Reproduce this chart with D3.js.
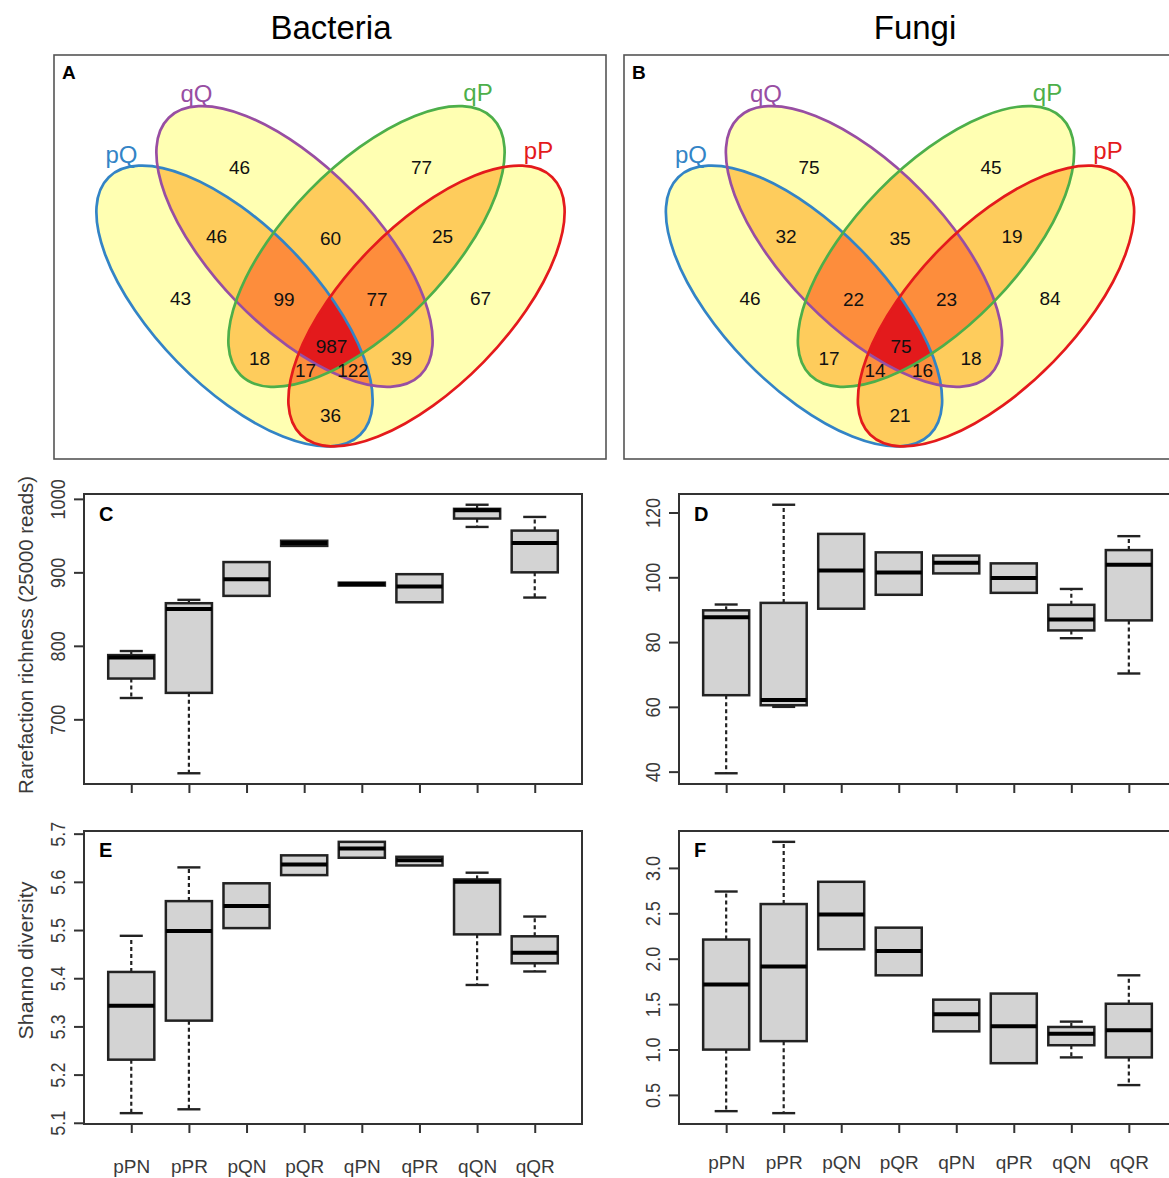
<!DOCTYPE html>
<html>
<head>
<meta charset="utf-8">
<script src="https://cdn.jsdelivr.net/npm/d3@7"></script>
<style>
  body { margin: 0; background: #fff; }
  text { font-family: "Liberation Sans", Arial, sans-serif; }
</style>
</head>
<body>
<div id="chart"></div>
<script>
// ---- Venn data ----
const setNames = ["pQ", "qQ", "qP", "pP"];
const regionKeys = ["pQ", "qQ", "qP", "pP", "pQ&qQ", "qQ&qP", "qP&pP", "pQ&qP", "qQ&pP", "pQ&pP",
  "pQ&qQ&qP", "qQ&qP&pP", "pQ&qP&pP", "pQ&qQ&pP", "pQ&qQ&qP&pP"];
const bacteriaCounts = [43, 46, 77, 67, 46, 60, 25, 18, 39, 36, 99, 77, 17, 122, 987];
const fungiCounts = [46, 75, 45, 84, 32, 35, 19, 17, 18, 21, 22, 23, 14, 16, 75];

// ---- Boxplot data: [lower whisker, Q1, median, Q3, upper whisker] ----
const groups = ["pPN", "pPR", "pQN", "pQR", "qPN", "qPR", "qQN", "qQR"];
const richBacteria = [
  [729, 755.5, 784, 787.4, 792.9],
  [626.6, 736, 850, 858, 862.6],
  [868, 868, 890.7, 914, 914],
  [936, 936, 940, 943, 943],
  [882, 882, 884, 886, 886],
  [859.3, 859.3, 880.7, 897.5, 897.5],
  [961.8, 973.2, 984.6, 986.4, 992],
  [865.7, 900, 940, 956.8, 975.4]
];
const richFungi = [
  [39.5, 63.6, 87.7, 89.8, 91.6],
  [60, 60.5, 62.1, 92.1, 122.4],
  [90.3, 90.3, 102.1, 113.4, 113.4],
  [94.6, 94.6, 101.5, 107.7, 107.7],
  [101.2, 101.2, 104.5, 106.7, 106.7],
  [95.2, 95.2, 99.8, 104.3, 104.3],
  [81.2, 83.6, 87, 91.5, 96.4],
  [70.3, 86.7, 103.9, 108.4, 112.7]
];
const shannonBacteria = [
  [5.120, 5.231, 5.343, 5.413, 5.488],
  [5.128, 5.312, 5.498, 5.560, 5.630],
  [5.504, 5.504, 5.550, 5.597, 5.597],
  [5.614, 5.614, 5.636, 5.655, 5.655],
  [5.650, 5.650, 5.669, 5.683, 5.683],
  [5.634, 5.634, 5.645, 5.652, 5.652],
  [5.386, 5.491, 5.600, 5.605, 5.619],
  [5.414, 5.431, 5.453, 5.487, 5.528]
];
const shannonFungi = [
  [0.321, 0.999, 1.717, 2.211, 2.740],
  [0.299, 1.092, 1.914, 2.602, 3.287],
  [2.104, 2.104, 2.487, 2.847, 2.847],
  [1.817, 1.817, 2.085, 2.342, 2.342],
  [1.200, 1.200, 1.389, 1.549, 1.549],
  [0.849, 0.849, 1.255, 1.616, 1.616],
  [0.913, 1.047, 1.173, 1.248, 1.307],
  [0.608, 0.913, 1.211, 1.504, 1.817]
];
const richBacteriaTicks = [700, 800, 900, 1000];
const richFungiTicks = [40, 60, 80, 100, 120];
const shannonBacteriaTicks = [5.1, 5.2, 5.3, 5.4, 5.5, 5.6, 5.7];
const shannonFungiTicks = [0.5, 1.0, 1.5, 2.0, 2.5, 3.0];

// ---- layout ----
const W = 1169, H = 1178;
const setColors = ["#3384c6", "#984ea3", "#4daf4a", "#e41a1c"];
const overlapFills = ["#ffffb2", "#fecc5c", "#fd8d3c", "#e31a1c"];
const vennEllipses = [
  {dx: -96, cy: 306, angle: 45.7},
  {dx: -36, cy: 246.5, angle: 45.7},
  {dx: 36, cy: 246.5, angle: -45.7},
  {dx: 96, cy: 306, angle: -45.7}
];
const vennRx = 180, vennRy = 80;
// label centre: [offset from venn centre, y]
const regionLabelPos = [[-150, 298], [-91, 167], [91, 167], [150, 298], [-114, 236], [0, 238], [112, 236],
  [-71, 358], [71, 358], [0, 415], [-46.5, 299], [46.5, 299], [-25, 370], [22.5, 370], [1, 346.5]];
const setLabelPos = [[-209, 163], [-134, 102], [147.5, 101], [208, 159]];

let svg = d3.select("#chart")
.append("svg")
.attr("width", W)
.attr("height", H)
.style("display", "block");

// Column titles.
svg.append("text").attr("x", 331).attr("y", 39).attr("text-anchor", "middle")
.style("font-size", "33px").text("Bacteria");
svg.append("text").attr("x", 915).attr("y", 39).attr("text-anchor", "middle")
.style("font-size", "33px").text("Fungi");

const combinations = (arr, k) => {
  if (k === 0) return [[]];
  return arr.flatMap((v, i) => combinations(arr.slice(i + 1), k - 1).map(c => [v, ...c]));
};

const drawVenn = (id, cx, frameX, counts, letter) => {
  let g = svg.append("g");
  g.append("rect")
  .attr("x", frameX).attr("y", 55)
  .attr("width", 552).attr("height", 404)
  .attr("fill", "none").attr("stroke", "#555").attr("stroke-width", 1.6);

  const setEllipse = (sel, i) => {
    const e = vennEllipses[i];
    sel.attr("cx", cx + e.dx).attr("cy", e.cy)
    .attr("rx", vennRx).attr("ry", vennRy)
    .attr("transform", "rotate(" + e.angle + "," + (cx + e.dx) + "," + e.cy + ")");
  };

  let defs = g.append("defs");
  setNames.forEach((s, i) => {
    defs.append("clipPath").attr("id", id + "-c" + i)
    .append("ellipse").call(setEllipse, i);
  });

  // Fill by number of overlapping sets.
  const idx = d3.range(setNames.length);
  for (let k = 1; k <= 4; k++) {
    combinations(idx, k).forEach(c => {
      let layer = g;
      c.slice(1).forEach(j => {
        layer = layer.append("g").attr("clip-path", "url(#" + id + "-c" + j + ")");
      });
      layer.append("ellipse").call(setEllipse, c[0])
      .attr("fill", overlapFills[k - 1]).attr("stroke", "none");
    });
  }

  // Outlines.
  setNames.forEach((s, i) => {
    g.append("ellipse").call(setEllipse, i)
    .attr("fill", "none").attr("stroke", setColors[i]).attr("stroke-width", 2.7);
  });

  // Set names.
  setNames.forEach((s, i) => {
    g.append("text")
    .attr("x", cx + setLabelPos[i][0]).attr("y", setLabelPos[i][1])
    .attr("text-anchor", "middle")
    .attr("fill", setColors[i])
    .style("font-size", "24px")
    .text(s);
  });

  // Region counts.
  g.selectAll(".count")
  .data(regionKeys)
  .enter()
  .append("text")
  .attr("x", (d, i) => cx + regionLabelPos[i][0])
  .attr("y", (d, i) => regionLabelPos[i][1])
  .attr("dy", "0.36em")
  .attr("text-anchor", "middle")
  .attr("fill", "#111")
  .style("font-size", "19px")
  .text((d, i) => counts[i]);

  g.append("text").attr("x", frameX + 8).attr("y", 79)
  .style("font-size", "19px").style("font-weight", "bold").text(letter);
};

drawVenn("vA", 330.5, 54, bacteriaCounts, "A");
drawVenn("vB", 900, 624, fungiCounts, "B");

// ---- Box plots ----
const drawBoxes = (opt) => {
  const flat = opt.stats.flat();
  const lo = d3.min(flat), hi = d3.max(flat), pad = (hi - lo) * 0.04;

  let x = d3.scaleLinear().domain([0.18, 8.82]).range([opt.x0, opt.x1]);
  let y = d3.scaleLinear().domain([lo - pad, hi + pad]).range([opt.y1, opt.y0]);
  let g = svg.append("g");

  // Y axis
  let ya = g.append("g")
  .attr("transform", "translate(" + opt.x0 + ",0)")
  .call(d3.axisLeft(y).tickValues(opt.ticks).tickSize(10).tickFormat(opt.fmt));
  ya.select(".domain").remove();
  ya.selectAll(".tick line").attr("stroke", "#333").attr("stroke-width", 2);
  ya.selectAll(".tick text")
  .attr("x", null).attr("dy", null)
  .attr("text-anchor", "middle")
  .attr("transform", "translate(-19,0) rotate(-90) scale(0.86,1)")
  .attr("fill", "#3a3a3a")
  .style("font-size", "21px")
  .style("font-family", "'Liberation Sans', Arial, sans-serif");

  // X axis
  let xa = g.append("g")
  .attr("transform", "translate(0," + opt.y1 + ")")
  .call(d3.axisBottom(x).tickValues(d3.range(1, 9)).tickSize(9)
    .tickFormat(d => opt.xlabels ? groups[d - 1] : ""));
  xa.select(".domain").remove();
  xa.selectAll(".tick line").attr("stroke", "#333").attr("stroke-width", 2);
  xa.selectAll(".tick text")
  .attr("y", opt.labelY).attr("dy", null)
  .attr("fill", "#3a3a3a")
  .style("font-size", "19px")
  .style("font-family", "'Liberation Sans', Arial, sans-serif");

  const bw = x(1.4) - x(1);
  const sw = x(1.2) - x(1);

  let b = g.selectAll(".bx")
  .data(opt.stats)
  .enter()
  .append("g");

  // Whiskers
  b.filter(d => d[4] > d[3]).append("line")
  .attr("x1", d => x(opt.stats.indexOf(d) + 1)).attr("x2", d => x(opt.stats.indexOf(d) + 1))
  .attr("y1", d => y(d[3])).attr("y2", d => y(d[4]))
  .attr("stroke", "#222").attr("stroke-width", 2.2).attr("stroke-dasharray", "4,3");
  b.filter(d => d[0] < d[1]).append("line")
  .attr("x1", d => x(opt.stats.indexOf(d) + 1)).attr("x2", d => x(opt.stats.indexOf(d) + 1))
  .attr("y1", d => y(d[1])).attr("y2", d => y(d[0]))
  .attr("stroke", "#222").attr("stroke-width", 2.2).attr("stroke-dasharray", "4,3");
  // Staples
  b.filter(d => d[4] > d[3]).append("line")
  .attr("x1", d => x(opt.stats.indexOf(d) + 1) - sw).attr("x2", d => x(opt.stats.indexOf(d) + 1) + sw)
  .attr("y1", d => y(d[4])).attr("y2", d => y(d[4]))
  .attr("stroke", "#222").attr("stroke-width", 2.4);
  b.filter(d => d[0] < d[1]).append("line")
  .attr("x1", d => x(opt.stats.indexOf(d) + 1) - sw).attr("x2", d => x(opt.stats.indexOf(d) + 1) + sw)
  .attr("y1", d => y(d[0])).attr("y2", d => y(d[0]))
  .attr("stroke", "#222").attr("stroke-width", 2.4);
  // Box
  b.append("rect")
  .attr("x", (d, i) => x(i + 1) - bw)
  .attr("width", 2 * bw)
  .attr("y", d => y(d[3]))
  .attr("height", d => y(d[1]) - y(d[3]))
  .attr("fill", "#d3d3d3").attr("stroke", "#222").attr("stroke-width", 2.5);
  // Median
  b.append("line")
  .attr("x1", (d, i) => x(i + 1) - bw).attr("x2", (d, i) => x(i + 1) + bw)
  .attr("y1", d => y(d[2])).attr("y2", d => y(d[2]))
  .attr("stroke", "#000").attr("stroke-width", 4);

  // Frame
  g.append("rect")
  .attr("x", opt.x0).attr("y", opt.y0)
  .attr("width", opt.x1 - opt.x0).attr("height", opt.y1 - opt.y0)
  .attr("fill", "none").attr("stroke", "#333").attr("stroke-width", 2);

  g.append("text").attr("x", opt.x0 + 15).attr("y", opt.y0 + (opt.letterY || 27))
  .style("font-size", "20px").style("font-weight", "bold").text(opt.letter);

  if (opt.ylabel) {
    g.append("text")
    .attr("transform", "translate(33," + ((opt.y0 + opt.y1) / 2 + opt.ylabelShift) + ") rotate(-90)")
    .attr("text-anchor", "middle")
    .attr("textLength", opt.ylabelLen)
    .attr("lengthAdjust", "spacingAndGlyphs")
    .attr("fill", "#3a3a3a")
    .style("font-size", "21px")
    .text(opt.ylabel);
  }
};

const f0 = d3.format("d"), f1 = d3.format(".1f");

drawBoxes({x0: 84, x1: 582, y0: 494, y1: 784, stats: richBacteria, ticks: richBacteriaTicks, fmt: f0,
  letter: "C", ylabel: "Rarefaction richness (25000 reads)", ylabelLen: 318, ylabelShift: -4});
drawBoxes({x0: 679, x1: 1176, y0: 494, y1: 784, stats: richFungi, ticks: richFungiTicks, fmt: f0,
  letter: "D"});
drawBoxes({x0: 84, x1: 582, y0: 831, y1: 1124, stats: shannonBacteria, ticks: shannonBacteriaTicks, fmt: f1,
  letter: "E", letterY: 26, xlabels: true, labelY: 49, ylabel: "Shanno diversity", ylabelLen: 158, ylabelShift: -17});
drawBoxes({x0: 679, x1: 1176, y0: 831, y1: 1124, stats: shannonFungi, ticks: shannonFungiTicks, fmt: f1,
  letter: "F", letterY: 26, xlabels: true, labelY: 45});
</script>
</body>
</html>
